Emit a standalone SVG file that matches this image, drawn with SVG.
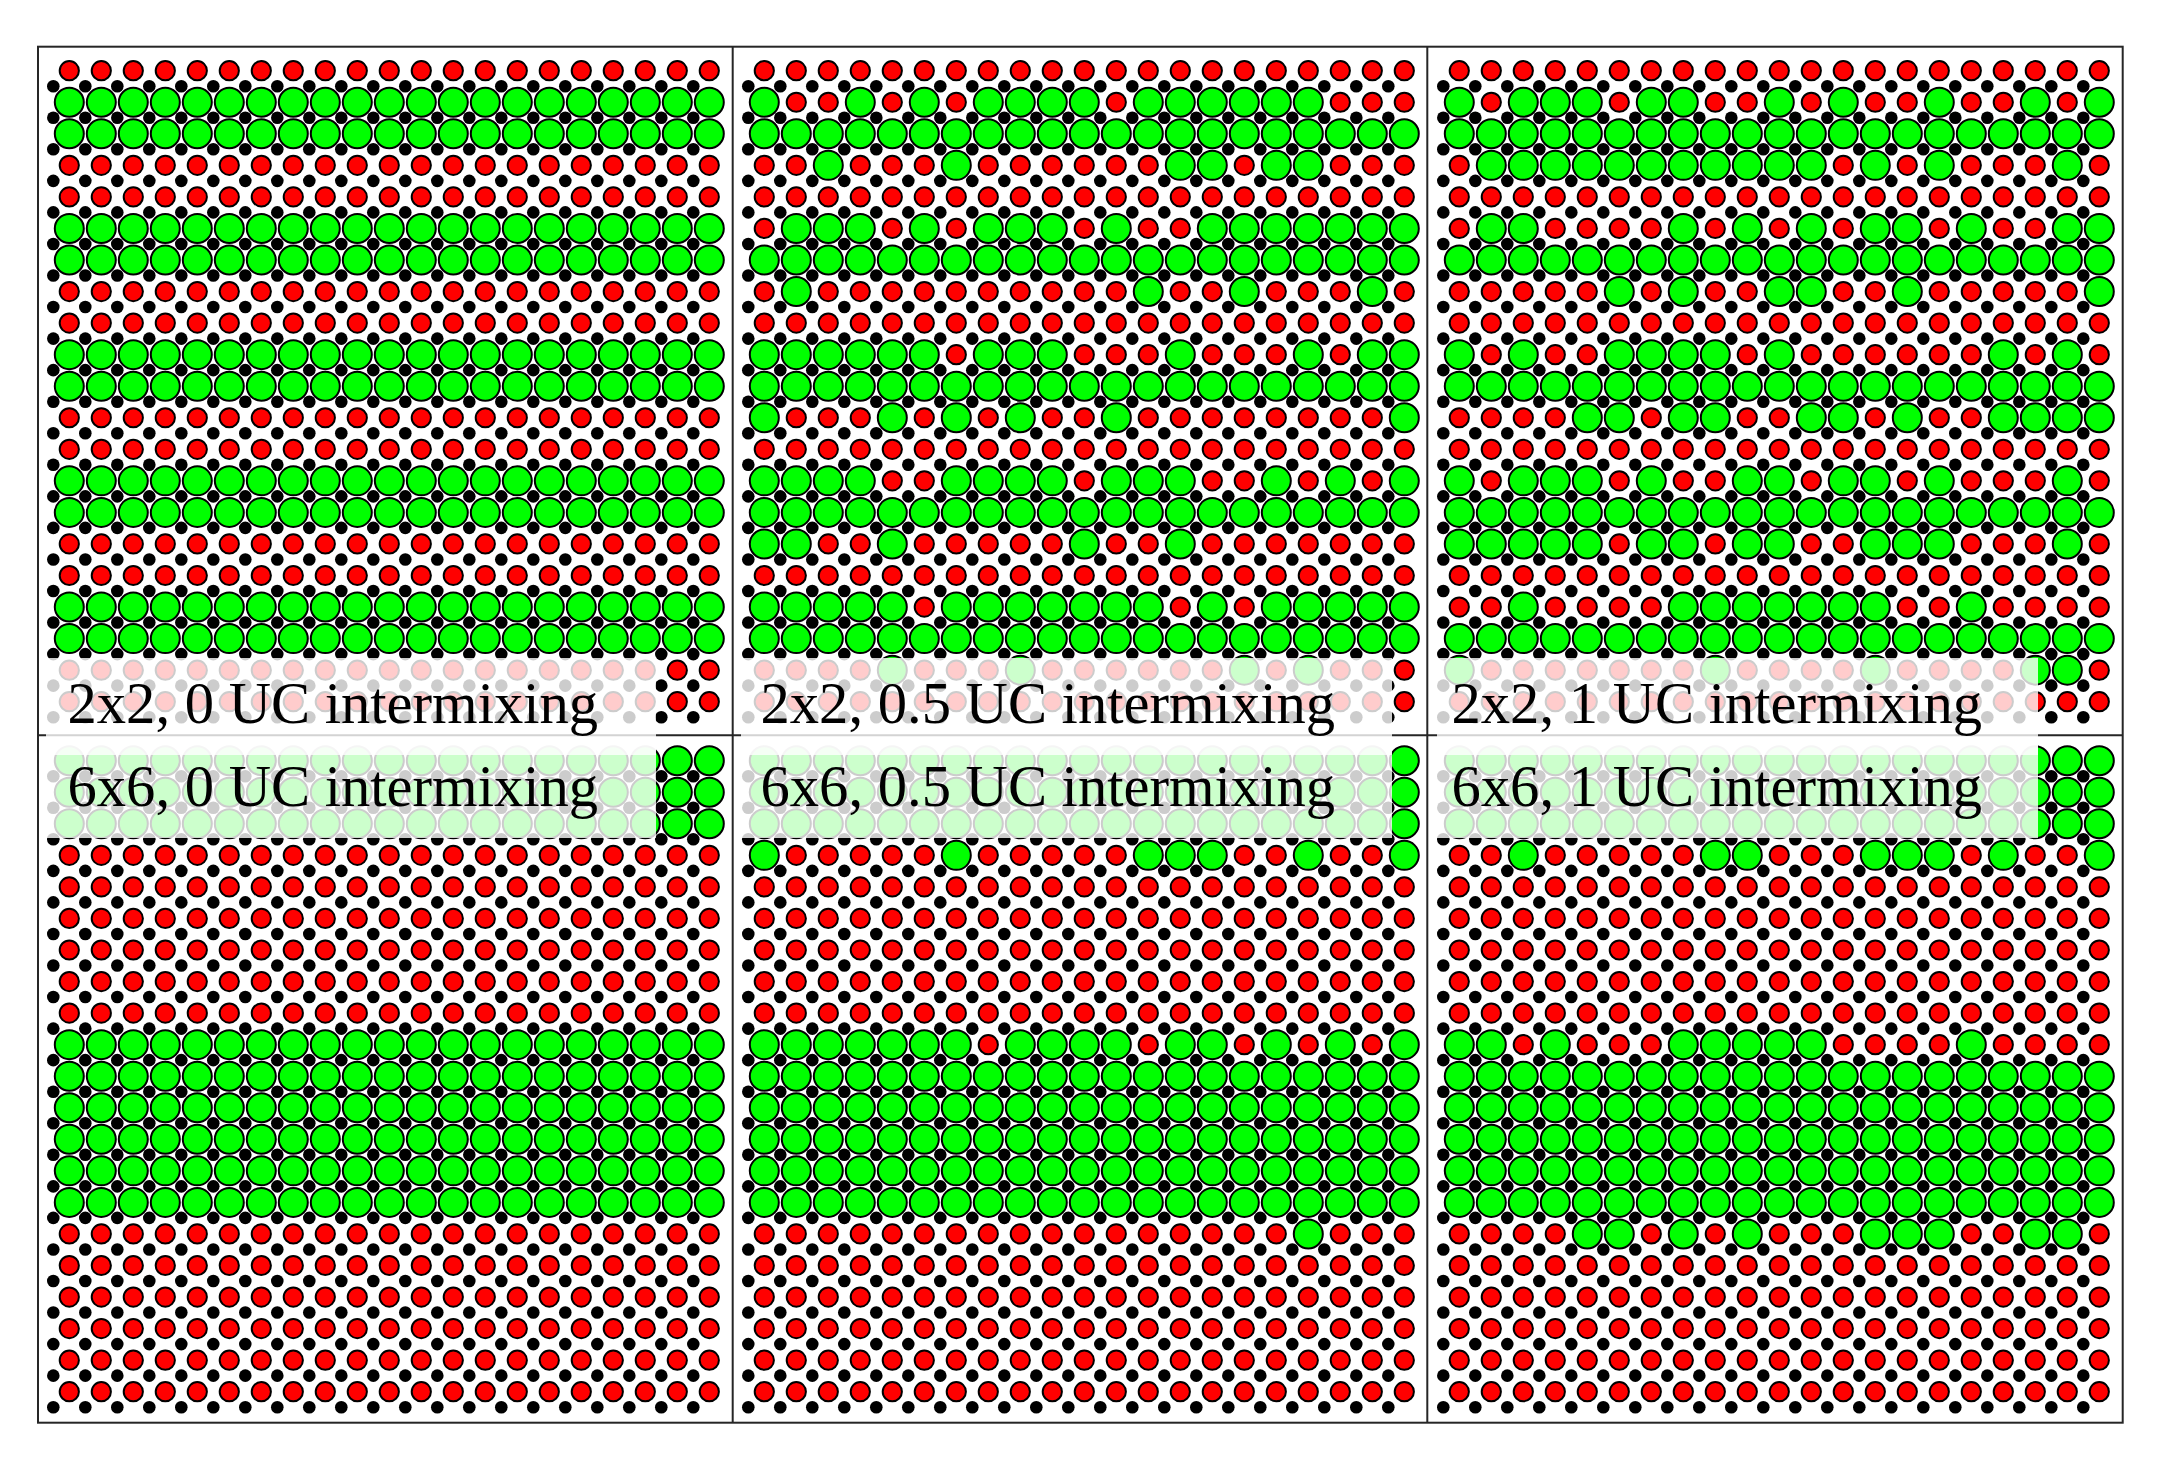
<svg xmlns="http://www.w3.org/2000/svg" xmlns:xlink="http://www.w3.org/1999/xlink" width="2166" height="1463" viewBox="0 0 2166 1463">
<style>
.lab{font-family:"Liberation Serif","Times New Roman",serif;font-size:58.6px;fill:#000}
.box{fill:#fff;fill-opacity:0.8;stroke:none}
.frame{fill:none;stroke:#262626;stroke-width:2}
</style>
<defs>
<circle id="r" r="9.6" fill="#ff0000" stroke="#000" stroke-width="2"/>
<circle id="g" r="14.5" fill="#00ff00" stroke="#000" stroke-width="2"/>
<circle id="b" r="6.3" fill="#000"/>
<g id="RR"><use href="#r"/><use href="#r" x="32"/><use href="#r" x="64"/><use href="#r" x="96"/><use href="#r" x="128"/><use href="#r" x="160"/><use href="#r" x="192"/><use href="#r" x="224"/><use href="#r" x="256"/><use href="#r" x="288"/><use href="#r" x="320"/><use href="#r" x="352"/><use href="#r" x="384"/><use href="#r" x="416"/><use href="#r" x="448"/><use href="#r" x="480"/><use href="#r" x="512"/><use href="#r" x="544"/><use href="#r" x="576"/><use href="#r" x="608"/><use href="#r" x="640"/></g>
<g id="GG"><use href="#g"/><use href="#g" x="32"/><use href="#g" x="64"/><use href="#g" x="96"/><use href="#g" x="128"/><use href="#g" x="160"/><use href="#g" x="192"/><use href="#g" x="224"/><use href="#g" x="256"/><use href="#g" x="288"/><use href="#g" x="320"/><use href="#g" x="352"/><use href="#g" x="384"/><use href="#g" x="416"/><use href="#g" x="448"/><use href="#g" x="480"/><use href="#g" x="512"/><use href="#g" x="544"/><use href="#g" x="576"/><use href="#g" x="608"/><use href="#g" x="640"/></g>
<g id="BB"><use href="#b" x="-16" y="15.5"/><use href="#b" x="16" y="15.5"/><use href="#b" x="48" y="15.5"/><use href="#b" x="80" y="15.5"/><use href="#b" x="112" y="15.5"/><use href="#b" x="144" y="15.5"/><use href="#b" x="176" y="15.5"/><use href="#b" x="208" y="15.5"/><use href="#b" x="240" y="15.5"/><use href="#b" x="272" y="15.5"/><use href="#b" x="304" y="15.5"/><use href="#b" x="336" y="15.5"/><use href="#b" x="368" y="15.5"/><use href="#b" x="400" y="15.5"/><use href="#b" x="432" y="15.5"/><use href="#b" x="464" y="15.5"/><use href="#b" x="496" y="15.5"/><use href="#b" x="528" y="15.5"/><use href="#b" x="560" y="15.5"/><use href="#b" x="592" y="15.5"/><use href="#b" x="624" y="15.5"/></g>
<g id="BL"><use href="#BB"/><use href="#BB" y="31.55"/><use href="#BB" y="63.1"/><use href="#BB" y="94.65"/><use href="#BB" y="126.2"/><use href="#BB" y="157.75"/><use href="#BB" y="189.3"/><use href="#BB" y="220.85"/><use href="#BB" y="252.4"/><use href="#BB" y="283.95"/><use href="#BB" y="315.5"/><use href="#BB" y="347.05"/><use href="#BB" y="378.6"/><use href="#BB" y="410.15"/><use href="#BB" y="441.7"/><use href="#BB" y="473.25"/><use href="#BB" y="504.8"/><use href="#BB" y="536.35"/><use href="#BB" y="567.9"/><use href="#BB" y="599.45"/><use href="#BB" y="631"/></g>
</defs>
<rect width="2166" height="1463" fill="#fff"/>

<g id="panel-2x2-0UC" transform="translate(69.3 70.7)">
<use href="#BL"/>
<use href="#RR"/><use href="#GG" y="31.55"/><use href="#GG" y="63.1"/><use href="#RR" y="94.65"/><use href="#RR" y="126.2"/><use href="#GG" y="157.75"/><use href="#GG" y="189.3"/><use href="#RR" y="220.85"/><use href="#RR" y="252.4"/><use href="#GG" y="283.95"/><use href="#GG" y="315.5"/><use href="#RR" y="347.05"/><use href="#RR" y="378.6"/><use href="#GG" y="410.15"/><use href="#GG" y="441.7"/><use href="#RR" y="473.25"/><use href="#RR" y="504.8"/><use href="#GG" y="536.35"/><use href="#GG" y="567.9"/><use href="#RR" y="599.45"/><use href="#RR" y="631"/>
</g>

<g id="panel-2x2-05UC" transform="translate(764.3 70.7)">
<use href="#BL"/>
<use href="#RR"/>
<g transform="translate(0 31.55)"><use href="#RR"/><use href="#g" x="0"/><use href="#g" x="96"/><use href="#g" x="160"/><use href="#g" x="224"/><use href="#g" x="256"/><use href="#g" x="288"/><use href="#g" x="320"/><use href="#g" x="384"/><use href="#g" x="416"/><use href="#g" x="448"/><use href="#g" x="480"/><use href="#g" x="512"/><use href="#g" x="544"/></g>
<use href="#GG" y="63.1"/>
<g transform="translate(0 94.65)"><use href="#RR"/><use href="#g" x="64"/><use href="#g" x="192"/><use href="#g" x="416"/><use href="#g" x="448"/><use href="#g" x="512"/><use href="#g" x="544"/></g>
<use href="#RR" y="126.2"/>
<g transform="translate(0 157.75)"><use href="#RR"/><use href="#g" x="32"/><use href="#g" x="64"/><use href="#g" x="96"/><use href="#g" x="160"/><use href="#g" x="224"/><use href="#g" x="256"/><use href="#g" x="288"/><use href="#g" x="352"/><use href="#g" x="448"/><use href="#g" x="480"/><use href="#g" x="512"/><use href="#g" x="544"/><use href="#g" x="576"/><use href="#g" x="608"/><use href="#g" x="640"/></g>
<use href="#GG" y="189.3"/>
<g transform="translate(0 220.85)"><use href="#RR"/><use href="#g" x="32"/><use href="#g" x="384"/><use href="#g" x="480"/><use href="#g" x="608"/></g>
<use href="#RR" y="252.4"/>
<g transform="translate(0 283.95)"><use href="#RR"/><use href="#g" x="0"/><use href="#g" x="32"/><use href="#g" x="64"/><use href="#g" x="96"/><use href="#g" x="128"/><use href="#g" x="160"/><use href="#g" x="224"/><use href="#g" x="256"/><use href="#g" x="288"/><use href="#g" x="416"/><use href="#g" x="544"/><use href="#g" x="608"/><use href="#g" x="640"/></g>
<use href="#GG" y="315.5"/>
<g transform="translate(0 347.05)"><use href="#RR"/><use href="#g" x="0"/><use href="#g" x="128"/><use href="#g" x="192"/><use href="#g" x="256"/><use href="#g" x="352"/><use href="#g" x="640"/></g>
<use href="#RR" y="378.6"/>
<g transform="translate(0 410.15)"><use href="#RR"/><use href="#g" x="0"/><use href="#g" x="32"/><use href="#g" x="64"/><use href="#g" x="96"/><use href="#g" x="192"/><use href="#g" x="224"/><use href="#g" x="256"/><use href="#g" x="288"/><use href="#g" x="352"/><use href="#g" x="384"/><use href="#g" x="416"/><use href="#g" x="512"/><use href="#g" x="576"/><use href="#g" x="640"/></g>
<use href="#GG" y="441.7"/>
<g transform="translate(0 473.25)"><use href="#RR"/><use href="#g" x="0"/><use href="#g" x="32"/><use href="#g" x="128"/><use href="#g" x="320"/><use href="#g" x="416"/></g>
<use href="#RR" y="504.8"/>
<g transform="translate(0 536.35)"><use href="#RR"/><use href="#g" x="0"/><use href="#g" x="32"/><use href="#g" x="64"/><use href="#g" x="96"/><use href="#g" x="128"/><use href="#g" x="192"/><use href="#g" x="224"/><use href="#g" x="256"/><use href="#g" x="288"/><use href="#g" x="320"/><use href="#g" x="352"/><use href="#g" x="384"/><use href="#g" x="448"/><use href="#g" x="512"/><use href="#g" x="544"/><use href="#g" x="576"/><use href="#g" x="608"/><use href="#g" x="640"/></g>
<use href="#GG" y="567.9"/>
<g transform="translate(0 599.45)"><use href="#RR"/><use href="#g" x="128"/><use href="#g" x="256"/><use href="#g" x="480"/><use href="#g" x="544"/></g>
<use href="#RR" y="631"/>
</g>

<g id="panel-2x2-1UC" transform="translate(1459.3 70.7)">
<use href="#BL"/>
<use href="#RR"/>
<g transform="translate(0 31.55)"><use href="#RR"/><use href="#g" x="0"/><use href="#g" x="64"/><use href="#g" x="96"/><use href="#g" x="128"/><use href="#g" x="192"/><use href="#g" x="224"/><use href="#g" x="320"/><use href="#g" x="384"/><use href="#g" x="480"/><use href="#g" x="576"/><use href="#g" x="640"/></g>
<use href="#GG" y="63.1"/>
<g transform="translate(0 94.65)"><use href="#RR"/><use href="#g" x="32"/><use href="#g" x="64"/><use href="#g" x="96"/><use href="#g" x="128"/><use href="#g" x="160"/><use href="#g" x="192"/><use href="#g" x="224"/><use href="#g" x="256"/><use href="#g" x="288"/><use href="#g" x="320"/><use href="#g" x="352"/><use href="#g" x="416"/><use href="#g" x="480"/><use href="#g" x="608"/></g>
<use href="#RR" y="126.2"/>
<g transform="translate(0 157.75)"><use href="#RR"/><use href="#g" x="32"/><use href="#g" x="64"/><use href="#g" x="224"/><use href="#g" x="288"/><use href="#g" x="352"/><use href="#g" x="416"/><use href="#g" x="448"/><use href="#g" x="512"/><use href="#g" x="608"/><use href="#g" x="640"/></g>
<use href="#GG" y="189.3"/>
<g transform="translate(0 220.85)"><use href="#RR"/><use href="#g" x="160"/><use href="#g" x="224"/><use href="#g" x="320"/><use href="#g" x="352"/><use href="#g" x="448"/><use href="#g" x="640"/></g>
<use href="#RR" y="252.4"/>
<g transform="translate(0 283.95)"><use href="#RR"/><use href="#g" x="0"/><use href="#g" x="64"/><use href="#g" x="160"/><use href="#g" x="192"/><use href="#g" x="224"/><use href="#g" x="256"/><use href="#g" x="320"/><use href="#g" x="544"/><use href="#g" x="608"/></g>
<use href="#GG" y="315.5"/>
<g transform="translate(0 347.05)"><use href="#RR"/><use href="#g" x="128"/><use href="#g" x="160"/><use href="#g" x="224"/><use href="#g" x="256"/><use href="#g" x="352"/><use href="#g" x="384"/><use href="#g" x="448"/><use href="#g" x="544"/><use href="#g" x="576"/><use href="#g" x="608"/><use href="#g" x="640"/></g>
<use href="#RR" y="378.6"/>
<g transform="translate(0 410.15)"><use href="#RR"/><use href="#g" x="0"/><use href="#g" x="64"/><use href="#g" x="96"/><use href="#g" x="128"/><use href="#g" x="192"/><use href="#g" x="288"/><use href="#g" x="320"/><use href="#g" x="384"/><use href="#g" x="416"/><use href="#g" x="480"/><use href="#g" x="608"/></g>
<use href="#GG" y="441.7"/>
<g transform="translate(0 473.25)"><use href="#RR"/><use href="#g" x="0"/><use href="#g" x="32"/><use href="#g" x="64"/><use href="#g" x="96"/><use href="#g" x="128"/><use href="#g" x="192"/><use href="#g" x="224"/><use href="#g" x="288"/><use href="#g" x="320"/><use href="#g" x="416"/><use href="#g" x="448"/><use href="#g" x="480"/><use href="#g" x="608"/></g>
<use href="#RR" y="504.8"/>
<g transform="translate(0 536.35)"><use href="#RR"/><use href="#g" x="64"/><use href="#g" x="224"/><use href="#g" x="256"/><use href="#g" x="288"/><use href="#g" x="320"/><use href="#g" x="352"/><use href="#g" x="384"/><use href="#g" x="416"/><use href="#g" x="512"/></g>
<use href="#GG" y="567.9"/>
<g transform="translate(0 599.45)"><use href="#RR"/><use href="#g" x="0"/><use href="#g" x="256"/><use href="#g" x="416"/><use href="#g" x="576"/><use href="#g" x="608"/></g>
<use href="#RR" y="631"/>
</g>

<g id="panel-6x6-0UC" transform="translate(69.3 760.7)">
<use href="#BL"/>
<use href="#GG"/><use href="#GG" y="31.55"/><use href="#GG" y="63.1"/><use href="#RR" y="94.65"/><use href="#RR" y="126.2"/><use href="#RR" y="157.75"/><use href="#RR" y="189.3"/><use href="#RR" y="220.85"/><use href="#RR" y="252.4"/><use href="#GG" y="283.95"/><use href="#GG" y="315.5"/><use href="#GG" y="347.05"/><use href="#GG" y="378.6"/><use href="#GG" y="410.15"/><use href="#GG" y="441.7"/><use href="#RR" y="473.25"/><use href="#RR" y="504.8"/><use href="#RR" y="536.35"/><use href="#RR" y="567.9"/><use href="#RR" y="599.45"/><use href="#RR" y="631"/>
</g>

<g id="panel-6x6-05UC" transform="translate(764.3 760.7)">
<use href="#BL"/>
<use href="#GG"/><use href="#GG" y="31.55"/><use href="#GG" y="63.1"/>
<g transform="translate(0 94.65)"><use href="#RR"/><use href="#g" x="0"/><use href="#g" x="192"/><use href="#g" x="384"/><use href="#g" x="416"/><use href="#g" x="448"/><use href="#g" x="544"/><use href="#g" x="640"/></g>
<use href="#RR" y="126.2"/><use href="#RR" y="157.75"/><use href="#RR" y="189.3"/><use href="#RR" y="220.85"/><use href="#RR" y="252.4"/>
<g transform="translate(0 283.95)"><use href="#RR"/><use href="#g" x="0"/><use href="#g" x="32"/><use href="#g" x="64"/><use href="#g" x="96"/><use href="#g" x="128"/><use href="#g" x="160"/><use href="#g" x="192"/><use href="#g" x="256"/><use href="#g" x="288"/><use href="#g" x="320"/><use href="#g" x="352"/><use href="#g" x="416"/><use href="#g" x="448"/><use href="#g" x="512"/><use href="#g" x="576"/><use href="#g" x="640"/></g>
<use href="#GG" y="315.5"/><use href="#GG" y="347.05"/><use href="#GG" y="378.6"/><use href="#GG" y="410.15"/><use href="#GG" y="441.7"/>
<g transform="translate(0 473.25)"><use href="#RR"/><use href="#g" x="544"/></g>
<use href="#RR" y="504.8"/><use href="#RR" y="536.35"/><use href="#RR" y="567.9"/><use href="#RR" y="599.45"/><use href="#RR" y="631"/>
</g>

<g id="panel-6x6-1UC" transform="translate(1459.3 760.7)">
<use href="#BL"/>
<use href="#GG"/><use href="#GG" y="31.55"/><use href="#GG" y="63.1"/>
<g transform="translate(0 94.65)"><use href="#RR"/><use href="#g" x="64"/><use href="#g" x="256"/><use href="#g" x="288"/><use href="#g" x="416"/><use href="#g" x="448"/><use href="#g" x="480"/><use href="#g" x="544"/><use href="#g" x="640"/></g>
<use href="#RR" y="126.2"/><use href="#RR" y="157.75"/><use href="#RR" y="189.3"/><use href="#RR" y="220.85"/><use href="#RR" y="252.4"/>
<g transform="translate(0 283.95)"><use href="#RR"/><use href="#g" x="0"/><use href="#g" x="32"/><use href="#g" x="96"/><use href="#g" x="224"/><use href="#g" x="256"/><use href="#g" x="288"/><use href="#g" x="320"/><use href="#g" x="352"/><use href="#g" x="512"/></g>
<use href="#GG" y="315.5"/><use href="#GG" y="347.05"/><use href="#GG" y="378.6"/><use href="#GG" y="410.15"/><use href="#GG" y="441.7"/>
<g transform="translate(0 473.25)"><use href="#RR"/><use href="#g" x="128"/><use href="#g" x="160"/><use href="#g" x="224"/><use href="#g" x="288"/><use href="#g" x="416"/><use href="#g" x="448"/><use href="#g" x="480"/><use href="#g" x="576"/><use href="#g" x="608"/></g>
<use href="#RR" y="504.8"/><use href="#RR" y="536.35"/><use href="#RR" y="567.9"/><use href="#RR" y="599.45"/><use href="#RR" y="631"/>
</g>

<g id="frames">
<rect class="frame" x="38" y="46.7" width="2084.7" height="1376"/>
<line class="frame" x1="732.7" y1="46.7" x2="732.7" y2="1422.7"/>
<line class="frame" x1="1427.3" y1="46.7" x2="1427.3" y2="1422.7"/>
<line class="frame" x1="38" y1="735.3" x2="2122.7" y2="735.3"/>
</g>

<g id="labels">
<rect class="box" x="46" y="658" width="610" height="97"/>
<rect class="box" x="741" y="658" width="651" height="97"/>
<rect class="box" x="1437" y="658" width="601" height="97"/>
<rect class="box" x="46" y="742" width="610" height="96"/>
<rect class="box" x="741" y="742" width="651" height="96"/>
<rect class="box" x="1437" y="742" width="601" height="96"/>
<text class="lab" x="67.5" y="723">2x2, 0 UC intermixing</text>
<text class="lab" x="760.5" y="723">2x2, 0.5 UC intermixing</text>
<text class="lab" x="1451.5" y="723">2x2, 1 UC intermixing</text>
<text class="lab" x="67.5" y="806">6x6, 0 UC intermixing</text>
<text class="lab" x="760.5" y="806">6x6, 0.5 UC intermixing</text>
<text class="lab" x="1451.5" y="806">6x6, 1 UC intermixing</text>
</g>
</svg>
